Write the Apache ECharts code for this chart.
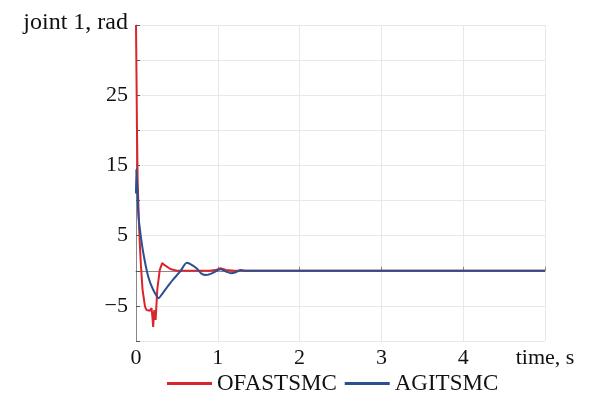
<!DOCTYPE html>
<html><head><meta charset="utf-8">
<script src="https://cdn.jsdelivr.net/npm/echarts@6/dist/echarts.min.js"></script>
<style>html,body{margin:0;padding:0;background:#fff}#c{width:600px;height:419px}</style>
</head><body><div id="c"></div>
<script>
const seriesNames = ['OFASTSMC', 'AGITSMC'];
const ofastsmc = [[0,35],[0.006,28],[0.012,20],[0.02,13],[0.035,7],[0.05,3],[0.06,0.8],[0.08,-2.7],[0.11,-5.1],[0.13,-5.6],[0.17,-5.7],[0.19,-5.3],[0.2,-6.5],[0.21,-8.0],[0.22,-6.0],[0.225,-5.6],[0.24,-7.0],[0.26,-2.7],[0.29,0.1],[0.32,1.1],[0.35,0.8],[0.42,0.25],[0.5,0],[0.9,0],[0.97,0.1],[1.03,0.35],[1.1,0.1],[1.2,0],[5,0]];
const agitsmc = [[0,11],[0.004,14.5],[0.008,12],[0.012,13],[0.028,8.2],[0.049,5.8],[0.09,2.5],[0.15,-0.85],[0.21,-2.7],[0.28,-3.9],[0.31,-3.45],[0.37,-2.5],[0.45,-1.3],[0.54,-0.1],[0.62,1.15],[0.66,0.97],[0.74,0.35],[0.8,-0.4],[0.86,-0.6],[0.94,-0.3],[1.03,0.2],[1.1,-0.1],[1.16,-0.35],[1.22,-0.2],[1.28,0.1],[1.35,0],[5,0]];
const yLabels = [-5, 5, 15, 25];
const xLabels = [0, 1, 2, 3, 4];
const xName = 'time, s';
const yName = 'joint 1, rad';

const FONT = '"Liberation Serif", "Times New Roman", serif';
const chart = echarts.init(document.getElementById('c'));
chart.setOption({
  animation: false,
  backgroundColor: '#fff',
  grid: {left: 136, right: 55, top: 25, bottom: 78},
  legend: {
    data: seriesNames, bottom: 19, left: 162, icon: 'rect',
    itemWidth: 45, itemHeight: 3, itemGap: 8,
    textStyle: {fontFamily: FONT, fontSize: 23, color: '#111'}
  },
  xAxis: {
    type: 'value', min: 0, max: 5, interval: 1,
    axisLine: {lineStyle: {color: '#888', width: 1}},
    axisTick: {inside: true, length: 4, lineStyle: {color: '#888'}},
    splitLine: {lineStyle: {color: '#e8e8e8'}},
    axisLabel: {
      fontFamily: FONT, fontSize: 22, color: '#111', margin: 6, showMaxLabel: true,
      formatter: v => v === 5 ? xName : (xLabels.includes(v) ? String(v) : '')
    }
  },
  yAxis: {
    type: 'value', min: -10, max: 35, interval: 5,
    name: yName, nameLocation: 'end', nameGap: 2,
    nameTextStyle: {fontFamily: FONT, fontSize: 24, color: '#111', align: 'right', verticalAlign: 'middle', padding: [0, 8, 0, 0]},
    axisLine: {show: true, lineStyle: {color: '#888', width: 1}},
    axisTick: {show: true, inside: true, length: 4, lineStyle: {color: '#555'}},
    splitLine: {lineStyle: {color: '#e8e8e8'}},
    axisLabel: {
      fontFamily: FONT, fontSize: 22, color: '#111', margin: 8,
      formatter: v => yLabels.includes(v) ? (v < 0 ? '\u2212' + Math.abs(v) : String(v)) : ''
    }
  },
  series: [
    {name: seriesNames[0], type: 'line', data: ofastsmc, showSymbol: false, symbol: 'none',
     lineStyle: {color: '#d9262c', width: 2}, itemStyle: {color: '#d9262c'}, z: 2},
    {name: seriesNames[1], type: 'line', data: agitsmc, showSymbol: false, symbol: 'none', smooth: 0.2,
     lineStyle: {color: '#2b4f92', width: 2}, itemStyle: {color: '#2b4f92'}, z: 3}
  ]
});
</script></body></html>
